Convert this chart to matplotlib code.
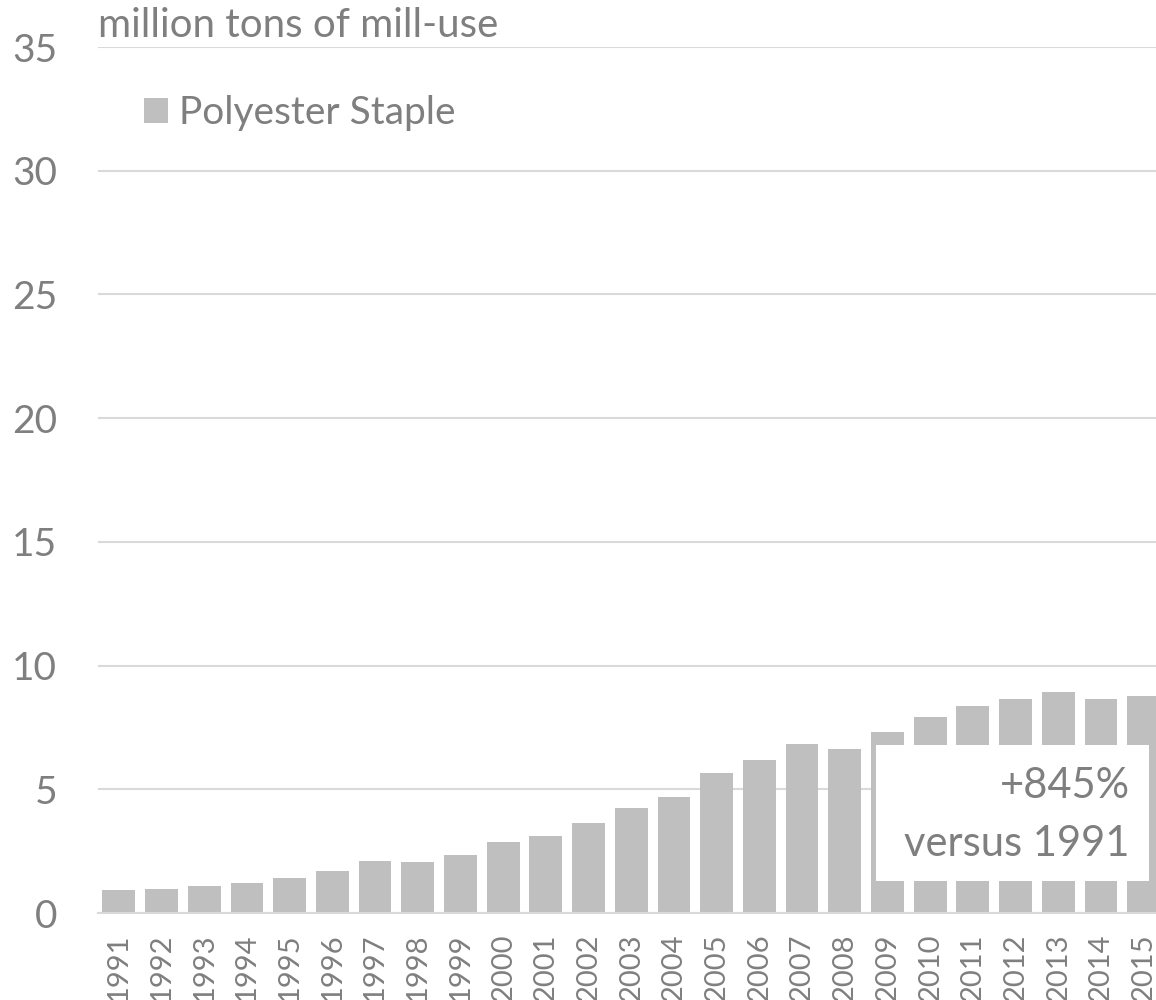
import matplotlib.pyplot as plt
from matplotlib.patches import Rectangle
import numpy as np

years = [str(y) for y in range(1991, 2016)]
polyester_staple = [0.93, 0.99, 1.09, 1.22, 1.42, 1.71, 2.12, 2.06, 2.35, 2.87,
                    3.12, 3.62, 4.23, 4.68, 5.66, 6.19, 6.84, 6.63, 7.30, 7.93,
                    8.35, 8.64, 8.92, 8.66, 8.79]
y_ticks = [0, 5, 10, 15, 20, 25, 30, 35]

bar_color = '#bfbfbf'
text_color = '#7f7f7f'
grid_color = '#d9d9d9'

plt.rcParams['font.family'] = ['Lato', 'DejaVu Sans']

fig = plt.figure(figsize=(11.56, 10), dpi=100)
ax = fig.add_axes([97.5 / 1156, 87 / 1000, (1165 - 97.5) / 1156, 866 / 1000])

x = np.arange(len(years))
ax.bar(x, polyester_staple, width=0.77, color=bar_color, label='Polyester Staple', zorder=2)

ax.set_xlim(-0.5, len(years) - 0.5)
ax.set_ylim(0, 35)
ax.set_yticks(y_ticks)
ax.set_xticks(x)
ax.set_xticklabels(years, rotation=90)
ax.tick_params(axis='y', length=0, pad=29, labelsize=28, labelcolor=text_color)
ax.tick_params(axis='x', length=0, pad=15, labelsize=21, labelcolor=text_color)
ax.grid(axis='y', color=grid_color, linewidth=1.5, zorder=0)
for s in ['top', 'right', 'left']:
    ax.spines[s].set_visible(False)
ax.spines['bottom'].set_color(grid_color)
ax.spines['bottom'].set_linewidth(1.5)
ax.spines['bottom'].set_zorder(3)

ax.text(0, 35.4, 'million tons of mill-use', transform=ax.get_yaxis_transform(),
        ha='left', va='baseline', fontsize=29, color=text_color)

leg = ax.legend(loc='upper left', bbox_to_anchor=(0.011, 0.985), frameon=False,
                fontsize=28, handlelength=0.6, handleheight=0.6, handletextpad=0.3,
                labelcolor=text_color)

# white callout box over the last bars
ax.add_patch(Rectangle((0.729, 0.037), 0.256, 0.157, transform=ax.transAxes,
                       facecolor='white', edgecolor='none', zorder=4))
ax.text(0.967, 0.113, '+845%\nversus 1991', transform=ax.transAxes, ha='right',
        va='center', multialignment='right', fontsize=30, color=text_color,
        linespacing=1.65, zorder=5)

fig.savefig('out.png', dpi=100)
